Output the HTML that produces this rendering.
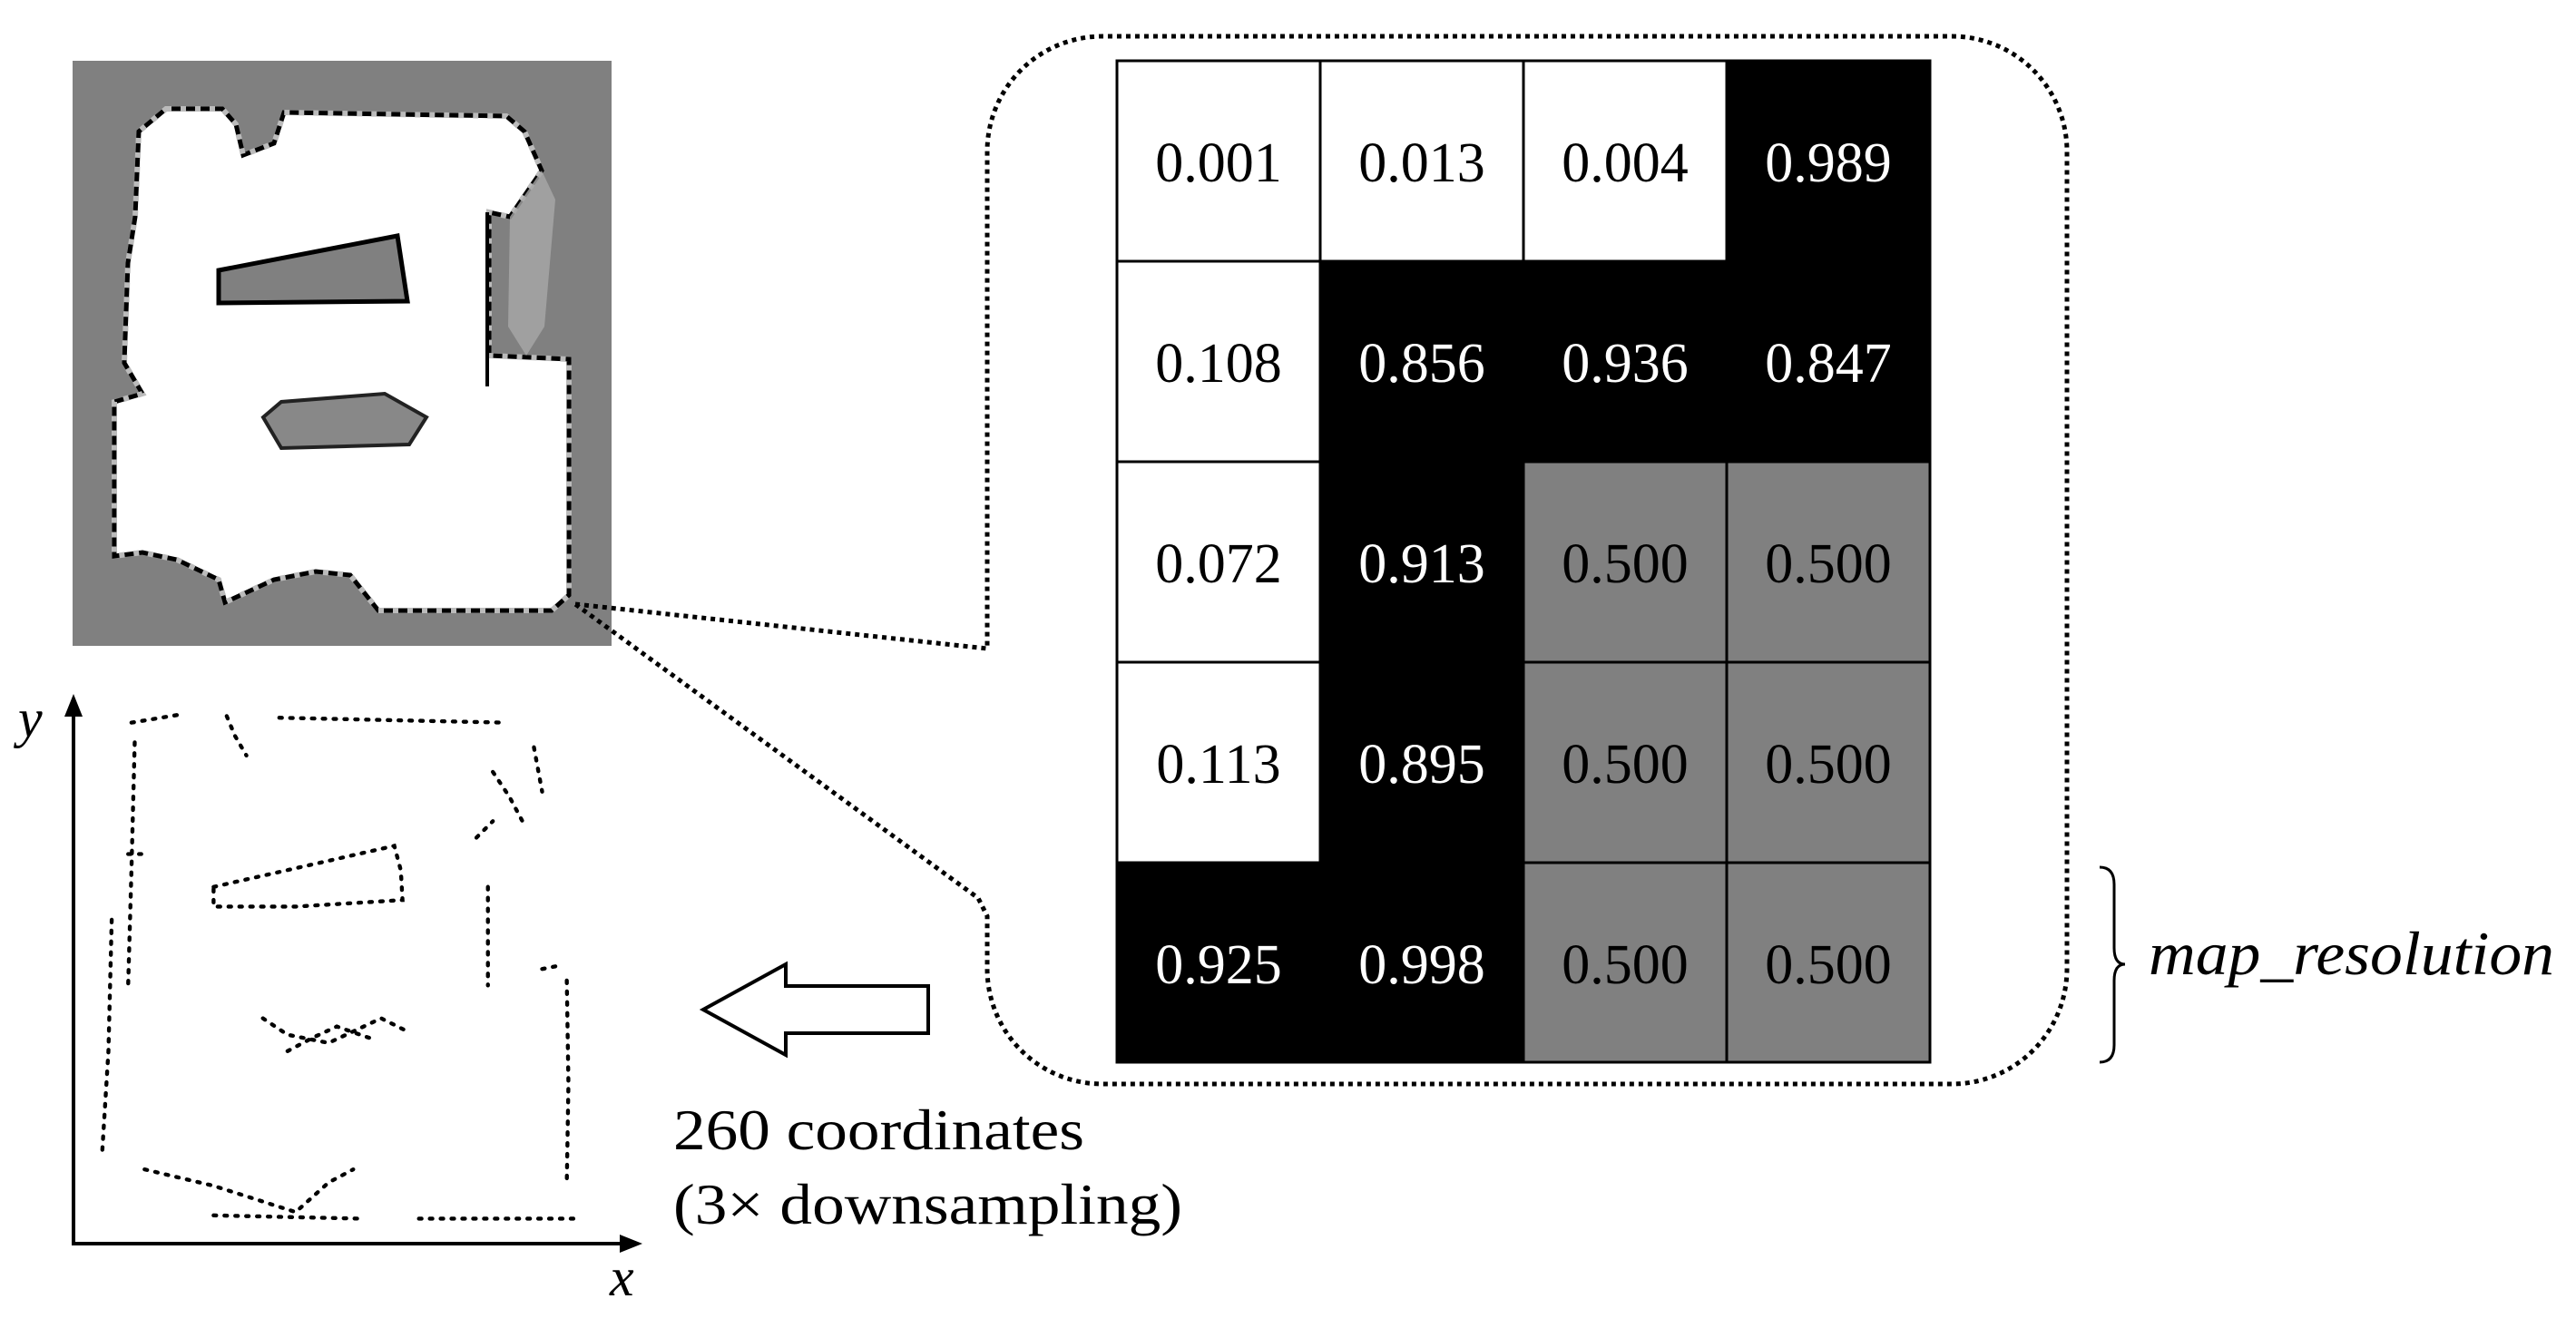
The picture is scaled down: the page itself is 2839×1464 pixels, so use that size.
<!DOCTYPE html>
<html><head><meta charset="utf-8"><style>
html,body{margin:0;padding:0;background:#fff;}
svg{display:block;}
text{font-family:"Liberation Serif",serif;}
</style></head><body>
<svg width="2839" height="1464" viewBox="0 0 2839 1464" xmlns="http://www.w3.org/2000/svg">
<!-- map -->
<rect x="80" y="67" width="594" height="645" fill="#808080"/>
<polygon points="183,120 245,120 260,137 268,171 302,158 313,124 558,128 578,145 597,188 562,239 539,234 539,392 627,396 627,656 608,673 417,673 386,634 348,630 302,639 248,664 241,639 195,617 157,609 126,613 126,443 157,434 137,400 141,290 149,239 153,145" fill="#fff" stroke="#000" stroke-width="5"/>
<polygon points="183,120 245,120 260,137 268,171 302,158 313,124 558,128 578,145 597,188 562,239 539,234 539,392 627,396 627,656 608,673 417,673 386,634 348,630 302,639 248,664 241,639 195,617 157,609 126,613 126,443 157,434 137,400 141,290 149,239 153,145" fill="none" stroke="#bbb" stroke-width="6" stroke-dasharray="6 10"/>
<polygon points="241,298 438,260 449,332 241,334" fill="#808080" stroke="#000" stroke-width="5"/>
<polygon points="290,460 310,443 424,434 470,460 451,490 310,494" fill="#888" stroke="#222" stroke-width="4"/>
<line x1="537" y1="234" x2="537" y2="426" stroke="#000" stroke-width="4"/>
<polygon points="562,239 597,188 612,220 600,360 580,392 560,360" fill="#a8a8a8" opacity="0.8"/>
<!-- dotted callout -->
<g fill="none" stroke="#000" stroke-width="5" stroke-dasharray="5 5">
<path d="M634,666 L1088,715 L1088,167 A127,127 0 0 1 1215,40 L2151,40 A127,127 0 0 1 2278,167 L2278,1068 A127,127 0 0 1 2151,1195 L1215,1195 A127,127 0 0 1 1088,1068 L1088,1010 L1078,990 L634,666"/>
</g>
<!-- grid -->
<g stroke="#000" stroke-width="3">
<rect x="1231" y="67" width="224" height="221" fill="#fff"/>
<rect x="1455" y="67" width="224" height="221" fill="#fff"/>
<rect x="1679" y="67" width="224" height="221" fill="#fff"/>
<rect x="1903" y="67" width="224" height="221" fill="#000"/>
<rect x="1231" y="288" width="224" height="221" fill="#fff"/>
<rect x="1455" y="288" width="224" height="221" fill="#000"/>
<rect x="1679" y="288" width="224" height="221" fill="#000"/>
<rect x="1903" y="288" width="224" height="221" fill="#000"/>
<rect x="1231" y="509" width="224" height="221" fill="#fff"/>
<rect x="1455" y="509" width="224" height="221" fill="#000"/>
<rect x="1679" y="509" width="224" height="221" fill="#808080"/>
<rect x="1903" y="509" width="224" height="221" fill="#808080"/>
<rect x="1231" y="730" width="224" height="221" fill="#fff"/>
<rect x="1455" y="730" width="224" height="221" fill="#000"/>
<rect x="1679" y="730" width="224" height="221" fill="#808080"/>
<rect x="1903" y="730" width="224" height="221" fill="#808080"/>
<rect x="1231" y="951" width="224" height="220" fill="#000"/>
<rect x="1455" y="951" width="224" height="220" fill="#000"/>
<rect x="1679" y="951" width="224" height="220" fill="#808080"/>
<rect x="1903" y="951" width="224" height="220" fill="#808080"/>
</g>
<g font-size="62" text-anchor="middle">
<text x="1343" y="200" fill="#000">0.001</text>
<text x="1567" y="200" fill="#000">0.013</text>
<text x="1791" y="200" fill="#000">0.004</text>
<text x="2015" y="200" fill="#fff">0.989</text>
<text x="1343" y="421" fill="#000">0.108</text>
<text x="1567" y="421" fill="#fff">0.856</text>
<text x="1791" y="421" fill="#fff">0.936</text>
<text x="2015" y="421" fill="#fff">0.847</text>
<text x="1343" y="642" fill="#000">0.072</text>
<text x="1567" y="642" fill="#fff">0.913</text>
<text x="1791" y="642" fill="#000">0.500</text>
<text x="2015" y="642" fill="#000">0.500</text>
<text x="1343" y="863" fill="#000">0.113</text>
<text x="1567" y="863" fill="#fff">0.895</text>
<text x="1791" y="863" fill="#000">0.500</text>
<text x="2015" y="863" fill="#000">0.500</text>
<text x="1343" y="1084" fill="#fff">0.925</text>
<text x="1567" y="1084" fill="#fff">0.998</text>
<text x="1791" y="1084" fill="#000">0.500</text>
<text x="2015" y="1084" fill="#000">0.500</text>
</g>
<!-- brace -->
<path d="M2314,956 Q2330,956 2330,975 L2330,1045 Q2330,1063 2342,1063 Q2330,1063 2330,1081 L2330,1152 Q2330,1171 2314,1171" fill="none" stroke="#000" stroke-width="3"/>
<text x="2368" y="1074" font-size="68" font-style="italic" textLength="447" lengthAdjust="spacingAndGlyphs">map_resolution</text>
<!-- hollow arrow -->
<polygon points="775,1113 866,1063 866,1087 1023,1087 1023,1139 866,1139 866,1163" fill="#fff" stroke="#000" stroke-width="4"/>
<text x="742" y="1267" font-size="64" textLength="453" lengthAdjust="spacingAndGlyphs">260 coordinates</text>
<text x="742" y="1349" font-size="64" textLength="561" lengthAdjust="spacingAndGlyphs">(3× downsampling)</text>
<!-- axes -->
<line x1="81" y1="785" x2="81" y2="1371" stroke="#000" stroke-width="4"/>
<polygon points="81,765 71,790 91,790" fill="#000"/>
<line x1="79" y1="1371" x2="688" y2="1371" stroke="#000" stroke-width="4"/>
<polygon points="708,1371 683,1361 683,1381" fill="#000"/>
<text x="20" y="812" font-size="60" font-style="italic">y</text>
<text x="672" y="1428" font-size="60" font-style="italic">x</text>
<!-- scatter -->
<g transform="scale(1.8106)" fill="none" stroke="#000" stroke-width="2.4" stroke-dasharray="1.6 5" stroke-linecap="round">
<polyline points="80,440 110,435"/>
<polyline points="138,436 143,448 150,460"/>
<polyline points="170,437 308,440"/>
<polyline points="82,452 80,530 78,600"/>
<polyline points="68,560 66,640 62,705"/>
<polyline points="325,455 330,482"/>
<polyline points="300,470 310,485 318,500"/>
<polyline points="290,510 300,500"/>
<polyline points="345,597 346,660 345,720"/>
<polyline points="88,712 130,722 180,738 200,720 215,712"/>
<polyline points="130,740 220,742"/>
<polyline points="255,742 350,742"/>
<polyline points="130,540 240,515 244,530 245,548 180,552 130,552 130,540"/>
<polyline points="297,540 297,600"/>
<polyline points="160,620 175,630 200,635 215,628 232,620 248,628"/>
<polyline points="175,640 190,632 205,625 225,632"/>
<polyline points="78,520 86,520"/>
<polyline points="330,590 340,588"/>
</g>
</svg>
</body></html>
